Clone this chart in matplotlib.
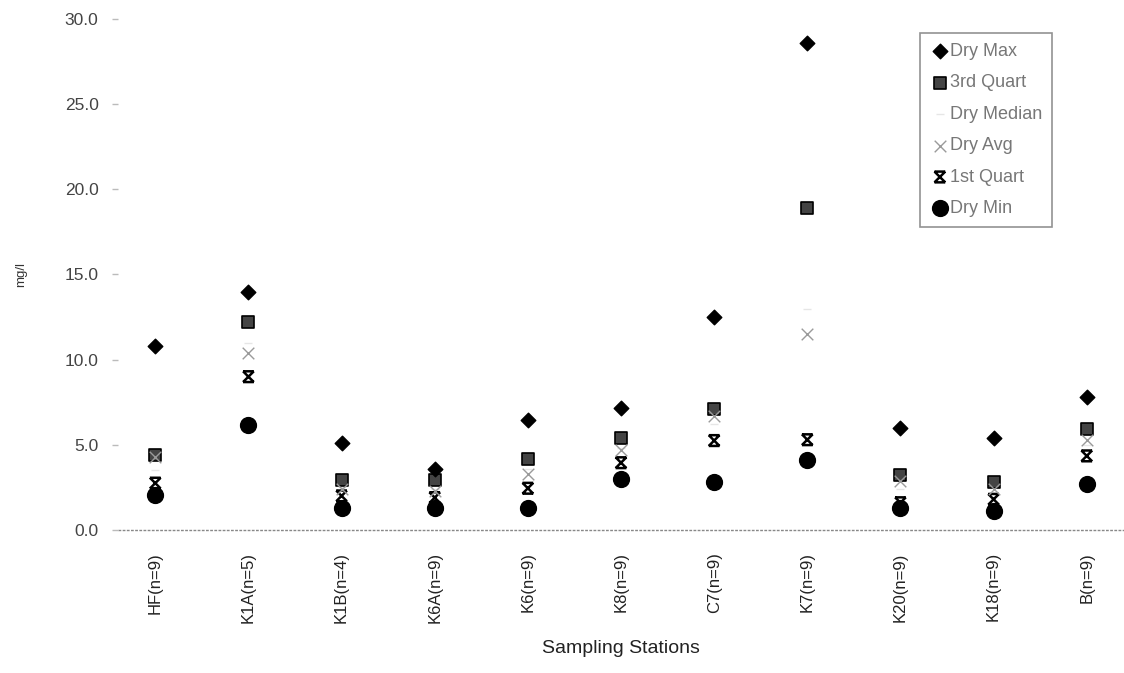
import numpy as np
import matplotlib
matplotlib.use('Agg')
from matplotlib import pyplot as plt
from matplotlib.path import Path

plt.rcParams['font.family'] = ['Liberation Sans', 'DejaVu Sans']

stations = ['HF(n=9)', 'K1A(n=5)', 'K1B(n=4)', 'K6A(n=9)', 'K6(n=9)', 'K8(n=9)',
            'C7(n=9)', 'K7(n=9)', 'K20(n=9)', 'K18(n=9)', 'B(n=9)']

dry_max = [10.8, 14.0, 5.1, 3.6, 6.45, 7.15, 12.5, 28.6, 6.0, 5.4, 7.8]
third_quart = [4.4, 12.2, 2.95, 2.95, 4.15, 5.4, 7.1, 18.9, 3.2, 2.8, 5.9]
dry_median = [3.5, 11.0, 2.5, 2.4, 3.6, 4.8, 6.2, 13.0, 2.4, 2.2, 5.0]
dry_avg = [4.3, 10.4, 2.4, 2.3, 3.3, 4.7, 6.7, 11.5, 2.9, 2.4, 5.3]
first_quart = [2.75, 9.0, 2.0, 1.9, 2.45, 3.95, 5.25, 5.3, 1.6, 1.8, 4.35]
dry_min = [2.05, 6.15, 1.3, 1.3, 1.3, 3.0, 2.8, 4.1, 1.3, 1.1, 2.7]

# marker used by the 1st quartile series: an x with bars on top and bottom
star = Path([(-1, -1), (1, 1), (-1, 1), (1, -1), (-1, 1), (1, 1), (-1, -1), (1, -1)],
            [Path.MOVETO, Path.LINETO, Path.MOVETO, Path.LINETO,
             Path.MOVETO, Path.LINETO, Path.MOVETO, Path.LINETO])

x = np.arange(len(stations))

fig = plt.figure(figsize=(11.24, 6.73), dpi=100)
ax = fig.add_axes([0.105, 0.2125, 0.895, 0.7593])

ax.scatter(x, dry_max, marker='D', s=55, color='black', label='Dry Max', zorder=5)
ax.scatter(x, third_quart, marker='s', s=75, facecolor='#444444', edgecolor='black',
           linewidth=1.2, label='3rd Quart', zorder=4)
ax.scatter(x, dry_median, marker='_', s=40, color='#e6e6e6', linewidth=1,
           label='Dry Median', zorder=3)
ax.scatter(x, dry_avg, marker='x', s=70, color='#9a9a9a', linewidth=1,
           label='Dry Avg', zorder=6)
ax.scatter(x, first_quart, marker=star, s=60, facecolor='none', edgecolor='black',
           linewidth=1.8, label='1st Quart', zorder=5)
ax.scatter(x, dry_min, marker='o', s=130, color='black', label='Dry Min', zorder=5)

ax.set_xlim(-0.4, 10.4)
ax.set_ylim(0, 30)
ax.set_yticks(np.arange(0, 30.1, 5))
ax.set_yticklabels(['%.1f' % v for v in np.arange(0, 30.1, 5)])
ax.set_xticks(x)
ax.set_xticklabels(stations, rotation=90, fontsize=12, color='#222222')

for s in ['top', 'right', 'left', 'bottom']:
    ax.spines[s].set_visible(False)
ax.axhline(0, color='#888888', linestyle=(0, (2, 1)), linewidth=1, zorder=1, clip_on=False)

ax.tick_params(axis='y', direction='out', length=4, width=1, color='#bbbbbb',
               labelsize=12.5, labelcolor='#444444', pad=10)
ax.tick_params(axis='x', length=0, pad=16)

ax.set_ylabel('mg/l', fontsize=9.5, color='#333333', labelpad=27)
ax.set_xlabel('Sampling Stations', fontsize=14, color='#222222', labelpad=12)

leg = ax.legend(loc='upper left', bbox_to_anchor=(920 / 1124, 1 - 33 / 673),
                bbox_transform=fig.transFigure, frameon=True, fancybox=False,
                fontsize=13, labelcolor='#777777', handletextpad=0.0,
                borderpad=0.55, labelspacing=0.8, handlelength=1.1,
                borderaxespad=0, scatterpoints=1)
leg.get_frame().set_edgecolor('#777777')
leg.get_frame().set_linewidth(1.2)

fig.savefig('out.png', dpi=100, facecolor='white')
